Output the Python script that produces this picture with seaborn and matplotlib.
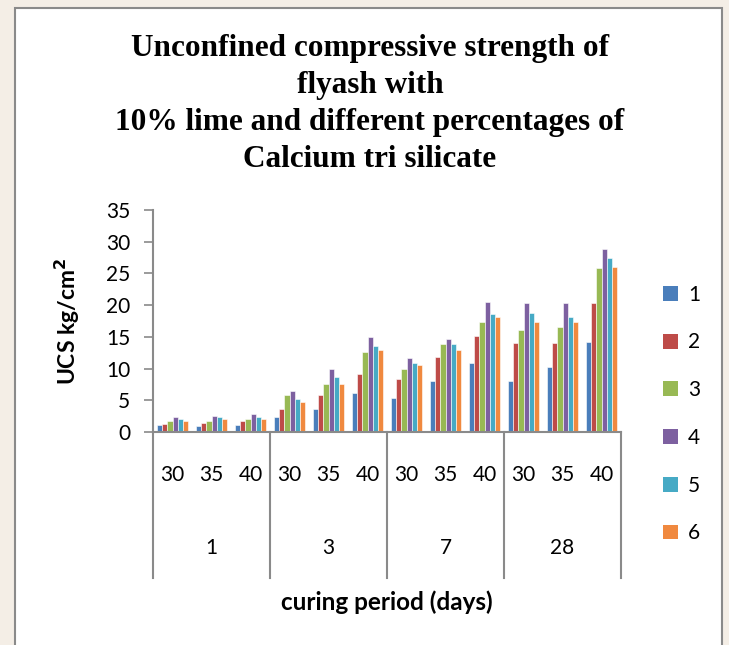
import matplotlib
matplotlib.use("Agg")
import matplotlib.pyplot as plt
import matplotlib.patches as mpatches
import matplotlib.transforms as mtrans
import seaborn as sns
import pandas as pd
import numpy as np

# ---- data ----
curing_days = ["1", "3", "7", "28"]
sub_labels = ["30", "35", "40"]
series_names = ["1", "2", "3", "4", "5", "6"]
s1 = [1.1, 0.9, 1.1, 2.3, 3.7, 6.1, 5.4, 8.0, 10.9, 8.0, 10.3, 14.2]
s2 = [1.2, 1.4, 1.7, 3.7, 5.8, 9.2, 8.4, 11.8, 15.1, 14.0, 14.0, 20.3]
s3 = [1.7, 1.8, 2.1, 5.8, 7.6, 12.6, 10.0, 13.9, 17.3, 16.1, 16.6, 25.8]
s4 = [2.3, 2.5, 2.8, 6.4, 10.0, 15.0, 11.6, 14.7, 20.5, 20.3, 20.4, 28.8]
s5 = [2.0, 2.3, 2.3, 5.2, 8.6, 13.6, 10.8, 13.8, 18.6, 18.7, 18.1, 27.4]
s6 = [1.8, 2.0, 2.1, 4.7, 7.5, 13.0, 10.6, 12.9, 18.1, 17.3, 17.3, 26.0]
colors = ["#4A7EBB", "#BE4B48", "#98B954", "#7D60A0", "#46AAC5", "#F0893F"]

cats = [f"{d}-{s}" for d in curing_days for s in sub_labels]
rows = []
for name, vals in zip(series_names, [s1, s2, s3, s4, s5, s6]):
    for c, v in zip(cats, vals):
        rows.append({"cat": c, "series": name, "value": v})
df = pd.DataFrame(rows)

W, H = 729, 645
fig = plt.figure(figsize=(W / 100, H / 100), dpi=100, facecolor="#f4eee6")
# white chart box
fig.patches.append(mpatches.Rectangle((15 / W, -0.05), (722 - 15) / W, 1.05 - 8 / H,
                                      transform=fig.transFigure, facecolor="white",
                                      edgecolor="#8a8a8a", linewidth=1.5, zorder=-5))

x0, x1 = 153, 621
y0, y1 = 432, 210
ax = fig.add_axes([x0 / W, 1 - y0 / H, (x1 - x0) / W, (y0 - y1) / H])
ax.set_facecolor("none")
ax.set_zorder(2)

sns.barplot(data=df, x="cat", y="value", hue="series", order=cats,
            hue_order=series_names, palette=colors, width=0.77, ax=ax,
            edgecolor="white", linewidth=0.4, saturation=1, legend=False)

ax.set_ylim(0, 35)
ax.set_xlim(-0.5, len(cats) - 0.5)
ax.set_yticks(range(0, 36, 5))
font = "Lato"
fs = 15
ax.tick_params(axis="y", length=6.5, width=1.2, color="#8a8a8a", labelsize=fs, pad=10)
for lab in ax.get_yticklabels():
    lab.set_fontfamily(font)
ax.set_xticks(range(len(cats)))
ax.set_xticklabels(sub_labels * len(curing_days), fontsize=fs, fontfamily=font)
ax.tick_params(axis="x", length=0, pad=24)
for sp in ["top", "right"]:
    ax.spines[sp].set_visible(False)
for sp in ["left", "bottom"]:
    ax.spines[sp].set_color("#8a8a8a")
    ax.spines[sp].set_linewidth(1.5)
ax.set_xlabel("")
ax.set_ylabel("")

trans = mtrans.blended_transform_factory(ax.transData, ax.transAxes)
sep_bottom = -(578 - 432) / (432 - 210)
for b in [-0.5, 2.5, 5.5, 8.5, 11.5]:
    ax.plot([b, b], [0, sep_bottom], transform=trans, color="#8a8a8a",
            linewidth=1.5, clip_on=False)
grp_y = -(548 - 432) / (432 - 210)
for i, d in enumerate(curing_days):
    ax.text(i * 3 + 1, grp_y, d, transform=trans, ha="center", va="center",
            fontsize=fs, fontfamily=font)

fig.text(387 / W, 1 - 602 / H, "curing period (days)", ha="center", va="center",
         fontsize=17.5, fontweight="bold", fontfamily=font)
fig.text(67 / W, 1 - 321 / H, "UCS kg/cm$^\\mathbf{2}$", ha="center", va="center",
         rotation=90, fontsize=16.5, fontweight="bold", fontfamily=font)

title = ("Unconfined compressive strength of\nflyash with\n"
         "10% lime and different percentages of\nCalcium tri silicate")
fig.text(370 / W, 1 - 104 / H, title, ha="center", va="center", fontsize=22.5,
         fontweight="bold", fontfamily="Liberation Serif", linespacing=1.36)

handles = [mpatches.Patch(facecolor=c, edgecolor="none") for c in colors]
fig.legend(handles, series_names, loc="center left",
           bbox_to_anchor=(644 / W, 1 - 414 / H), frameon=False,
           prop={"family": font, "size": fs}, handlelength=0.72, handleheight=0.72,
           labelspacing=1.33, handletextpad=0.5)

fig.savefig("out.png", dpi=100, facecolor=fig.get_facecolor())
